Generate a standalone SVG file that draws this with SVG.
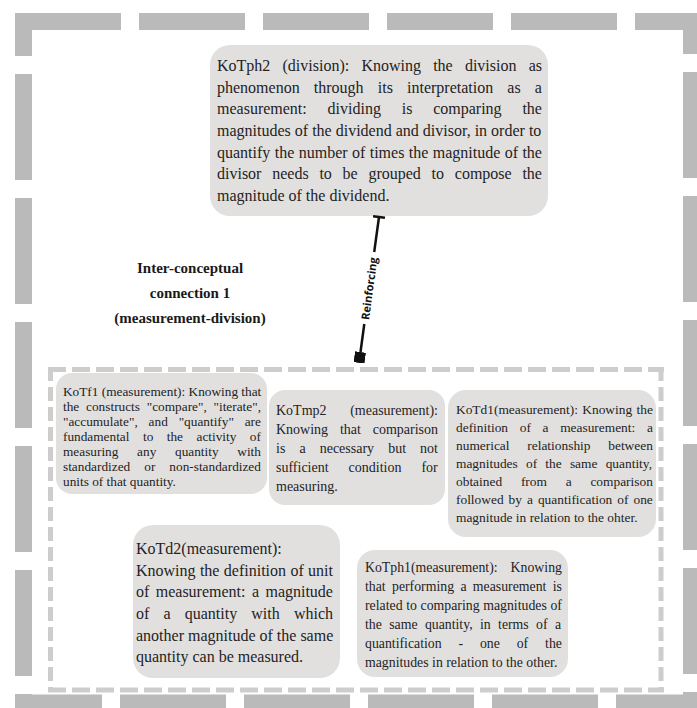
<svg xmlns="http://www.w3.org/2000/svg" width="697" height="708" viewBox="0 0 697 708">
<style>
.frame{fill:none;stroke:#bababa;stroke-width:17}
.inner{fill:none;stroke:#cdcdcd;stroke-width:5}
.box{fill:#e2e0df}
.t{font-family:"Liberation Serif","Times New Roman",serif;fill:#232323}
.title{font-family:"Liberation Serif","Times New Roman",serif;font-weight:bold;font-size:15px;fill:#1a1a1a;text-anchor:middle}
.edge{fill:none;stroke:#111;stroke-width:2.5}
.lbl{font-family:"Open Sans","DejaVu Sans",sans-serif;font-weight:bold;font-size:11px;fill:#111;text-anchor:middle}
</style>
<defs>
<marker id="tbar" markerUnits="userSpaceOnUse" markerWidth="4" markerHeight="14" refX="0" refY="7" orient="auto" viewBox="-2 0 4 14">
<line x1="0" y1="1" x2="0" y2="13" stroke="#111" stroke-width="2.5"/>
</marker>
<marker id="sq" markerUnits="userSpaceOnUse" markerWidth="11" markerHeight="11" refX="0" refY="5.5" orient="auto" viewBox="0 0 11 11">
<rect x="0" y="0" width="11" height="11" fill="#111"/>
</marker>
</defs>
<rect width="697" height="708" fill="#ffffff"/>
<g id="outer-frame">
<line class="frame" x1="15" y1="21.5" x2="700" y2="21.5" stroke-dasharray="106 18"/>
<line class="frame" x1="23.5" y1="13" x2="23.5" y2="712" stroke-dasharray="106 18" stroke-dashoffset="63"/>
<line class="frame" x1="691.5" y1="13" x2="691.5" y2="712" stroke-dasharray="106 18" stroke-dashoffset="65"/>
<line class="frame" x1="15" y1="703" x2="700" y2="703" stroke-dasharray="106 18" stroke-dashoffset="19"/>
</g>
<g id="inner-frame">
<line class="inner" x1="48" y1="369.5" x2="664" y2="369.5" stroke-dasharray="18 6"/>
<line class="inner" x1="48" y1="690" x2="664" y2="690" stroke-dasharray="18 6"/>
<line class="inner" x1="50.5" y1="367" x2="50.5" y2="692" stroke-dasharray="14 6"/>
<line class="inner" x1="661" y1="367" x2="661" y2="692" stroke-dasharray="14 6"/>
</g>
<g id="title">
<text class="title" x="190" y="273">Inter-conceptual</text>
<text class="title" x="190" y="298">connection 1</text>
<text class="title" x="190" y="323">(measurement-division)</text>
</g>
<g id="KoTph2">
<rect class="box" x="210" y="45" width="338" height="171" rx="20"/>
<text class="t" font-size="16" x="217" y="71" style="word-spacing:8.2px">KoTph2 (division): Knowing the division as</text>
<text class="t" font-size="16" x="217" y="92.7" style="word-spacing:10.16px">phenomenon through its interpretation as a</text>
<text class="t" font-size="16" x="217" y="114.3" style="word-spacing:16.81px">measurement: dividing is comparing the</text>
<text class="t" font-size="16" x="217" y="136" style="word-spacing:0.02px">magnitudes of the dividend and divisor, in order to</text>
<text class="t" font-size="16" x="217" y="157.7" style="word-spacing:0.41px">quantify the number of times the magnitude of the</text>
<text class="t" font-size="16" x="217" y="179.3" style="word-spacing:6.75px">divisor needs to be grouped to compose the</text>
<text class="t" font-size="16" x="217" y="201">magnitude of the dividend.</text>
</g>
<g id="KoTf1">
<rect class="box" x="56" y="373" width="211" height="121" rx="16"/>
<text class="t" font-size="13.3" x="63" y="396">KoTf1 (measurement): Knowing that</text>
<text class="t" font-size="13.3" x="63" y="411" style="word-spacing:3.49px">the constructs "compare", "iterate",</text>
<text class="t" font-size="13.3" x="63" y="426" style="word-spacing:7.55px">"accumulate", and "quantify" are</text>
<text class="t" font-size="13.3" x="63" y="441" style="word-spacing:10.16px">fundamental to the activity of</text>
<text class="t" font-size="13.3" x="63" y="456" style="word-spacing:15.39px">measuring any quantity with</text>
<text class="t" font-size="13.3" x="63" y="471" style="word-spacing:10.72px">standardized or non-standardized</text>
<text class="t" font-size="13.3" x="63" y="486">units of that quantity.</text>
</g>
<g id="KoTmp2">
<rect class="box" x="269" y="390" width="176" height="115" rx="16"/>
<text class="t" font-size="14" x="276" y="415" style="word-spacing:20.1px">KoTmp2 (measurement):</text>
<text class="t" font-size="14" x="276" y="434" style="word-spacing:8.3px">Knowing that comparison</text>
<text class="t" font-size="14" x="276" y="453" style="word-spacing:10.56px">is a necessary but not</text>
<text class="t" font-size="14" x="276" y="472" style="word-spacing:16.45px">sufficient condition for</text>
<text class="t" font-size="14" x="276" y="491">measuring.</text>
</g>
<g id="KoTd1">
<rect class="box" x="448" y="390" width="208" height="147" rx="18"/>
<text class="t" font-size="13.4" x="456" y="414" style="word-spacing:1px">KoTd1(measurement): Knowing the</text>
<text class="t" font-size="13.4" x="456" y="432" style="word-spacing:8.31px">definition of a measurement: a</text>
<text class="t" font-size="13.4" x="456" y="450" style="word-spacing:14.4px">numerical relationship between</text>
<text class="t" font-size="13.4" x="456" y="468" style="word-spacing:4.87px">magnitudes of the same quantity,</text>
<text class="t" font-size="13.4" x="456" y="486" style="word-spacing:15.42px">obtained from a comparison</text>
<text class="t" font-size="13.4" x="456" y="504" style="word-spacing:1.65px">followed by a quantification of one</text>
<text class="t" font-size="13.4" x="456" y="522">magnitude in relation to the ohter.</text>
</g>
<g id="KoTd2">
<rect class="box" x="133" y="525" width="207" height="153" rx="20"/>
<text class="t" font-size="16" x="136" y="554">KoTd2(measurement):</text>
<text class="t" font-size="16" x="136" y="575.7" style="word-spacing:0.36px">Knowing the definition of unit</text>
<text class="t" font-size="16" x="136" y="597.3" style="word-spacing:2.42px">of measurement: a magnitude</text>
<text class="t" font-size="16" x="136" y="619" style="word-spacing:10.15px">of a quantity with which</text>
<text class="t" font-size="16" x="136" y="640.7">another magnitude of the same</text>
<text class="t" font-size="16" x="136" y="662.3">quantity can be measured.</text>
</g>
<g id="KoTph1">
<rect class="box" x="357" y="550" width="211" height="127" rx="18"/>
<text class="t" font-size="13.8" x="365" y="572" style="word-spacing:9.58px">KoTph1(measurement): Knowing</text>
<text class="t" font-size="13.8" x="365" y="591" style="word-spacing:2.87px">that performing a measurement is</text>
<text class="t" font-size="13.8" x="365" y="610" style="word-spacing:0.19px">related to comparing magnitudes of</text>
<text class="t" font-size="13.8" x="365" y="629" style="word-spacing:3.89px">the same quantity, in terms of a</text>
<text class="t" font-size="13.8" x="365" y="648" style="word-spacing:13.41px">quantification - one of the</text>
<text class="t" font-size="13.8" x="365" y="667">magnitudes in relation to the other.</text>
</g>
<g id="connectors">
<path class="edge" d="M379,217 L374.2,252 M364.3,324 L360.5,352" marker-start="url(#tbar)" marker-end="url(#sq)"/>
<text class="lbl" transform="translate(369.2,288.5) rotate(-82.2)" y="4">Reinforcing</text>
</g>
</svg>
